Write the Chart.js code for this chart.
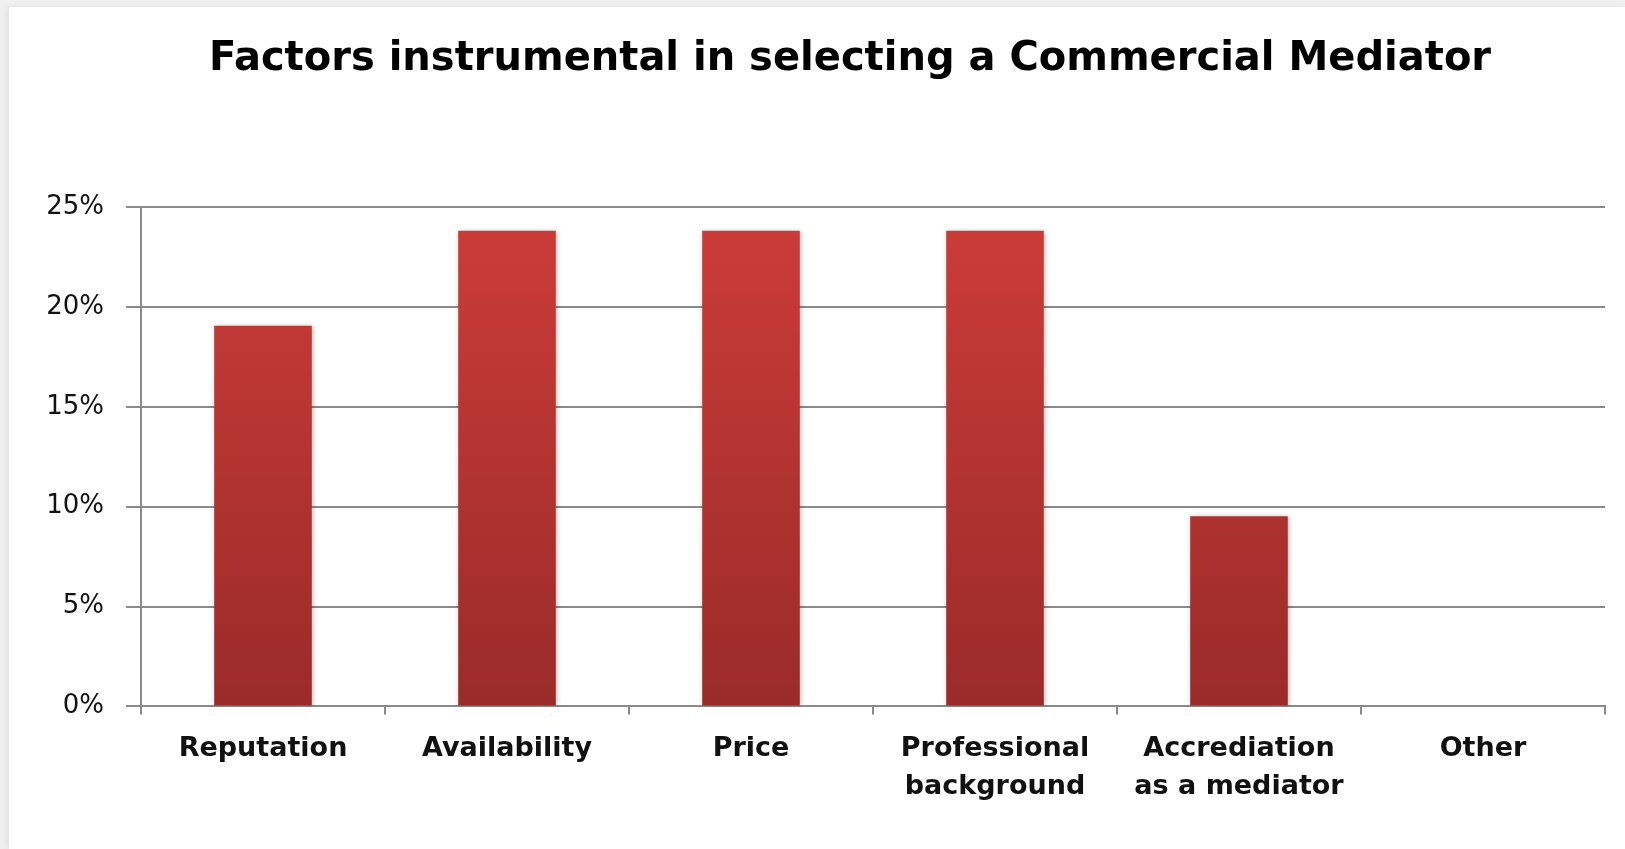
<!DOCTYPE html>
<html>
<head>
<meta charset="utf-8">
<script src="https://cdn.jsdelivr.net/npm/chart.js@4/dist/chart.umd.min.js"></script>
<style>
  html, body { margin: 0; padding: 0; background: #f0f0f0; overflow: hidden; }
  .frame {
    position: absolute; left: 9px; top: 7px; width: 1616px; height: 842px;
    background: #fff; box-shadow: -3px 0 6px rgba(0,0,0,0.06);
  }
</style>
</head>
<body>
<div class="frame"><canvas id="factorsChart" width="1616" height="842"></canvas></div>
<script>
// Survey answers, share of respondents (%)
const factors = ['Reputation', 'Availability', 'Price', ['Professional', 'background'], ['Accrediation', 'as a mediator'], 'Other'];
const shares = [19.05, 23.81, 23.81, 23.81, 9.52, 0];
const yTicks = [0, 5, 10, 15, 20, 25];

const chartTitle = 'Factors instrumental in selecting a Commercial Mediator';
const gridGrey = '#8a8a8a';

// vertical red gradient like the spreadsheet bar fill
function barFill(context) {
  const { chart } = context;
  const area = chart.chartArea;
  if (!area) return '#c0393a';
  const g = chart.ctx.createLinearGradient(0, area.top, 0, area.bottom);
  g.addColorStop(0, '#cd3c39');
  g.addColorStop(1, '#9a2b29');
  return g;
}

// soft shadow around the bars
const barShadow = {
  id: 'barShadow',
  beforeDatasetDraw(chart) {
    const ctx = chart.ctx;
    ctx.save();
    ctx.shadowColor = 'rgba(0,0,0,0.25)';
    ctx.shadowBlur = 5;
    ctx.shadowOffsetX = 1;
    ctx.shadowOffsetY = 0;
  },
  afterDatasetDraw(chart) {
    chart.ctx.restore();
  }
};

// title centred a little left of the plot centre, in the top padding
const topTitle = {
  id: 'topTitle',
  afterDraw(chart) {
    const ctx = chart.ctx;
    ctx.save();
    ctx.font = 'bold 40px "DejaVu Sans"';
    ctx.fillStyle = '#000';
    ctx.textAlign = 'center';
    ctx.textBaseline = 'middle';
    ctx.fillText(chartTitle, 841, 53);
    ctx.restore();
  }
};

new Chart(document.getElementById('factorsChart').getContext('2d'), {
  type: 'bar',
  data: {
    labels: factors,
    datasets: [{
      data: shares,
      backgroundColor: barFill,
      borderWidth: 0,
      barPercentage: 0.4,
      categoryPercentage: 1.0
    }]
  },
  options: {
    responsive: false,
    animation: false,
    layout: { padding: { left: 0, right: 20, top: 200, bottom: 27 } },
    plugins: {
      legend: { display: false },
      tooltip: { enabled: false },
      title: { display: false }
    },
    scales: {
      x: {
        grid: {
          display: true,
          drawOnChartArea: false,
          drawTicks: true,
          tickLength: 8,
          color: gridGrey,
          lineWidth: 2
        },
        border: { display: true, color: gridGrey, width: 2 },
        ticks: {
          color: '#111',
          padding: 16,
          font: { family: 'DejaVu Sans', size: 27, weight: 'bold', lineHeight: 1.4 },
          maxRotation: 0,
          autoSkip: false
        }
      },
      y: {
        min: 0,
        max: 25,
        afterBuildTicks(scale) {
          scale.ticks = yTicks.map(v => ({ value: v }));
        },
        afterFit(scale) { scale.width = 132; },
        grid: { color: gridGrey, lineWidth: 2, tickLength: 15 },
        border: { display: true, color: gridGrey, width: 2 },
        ticks: {
          color: '#111',
          padding: 22,
          font: { family: 'DejaVu Sans', size: 26 },
          callback: v => v + '%'
        }
      }
    }
  },
  plugins: [barShadow, topTitle]
});
</script>
</body>
</html>
